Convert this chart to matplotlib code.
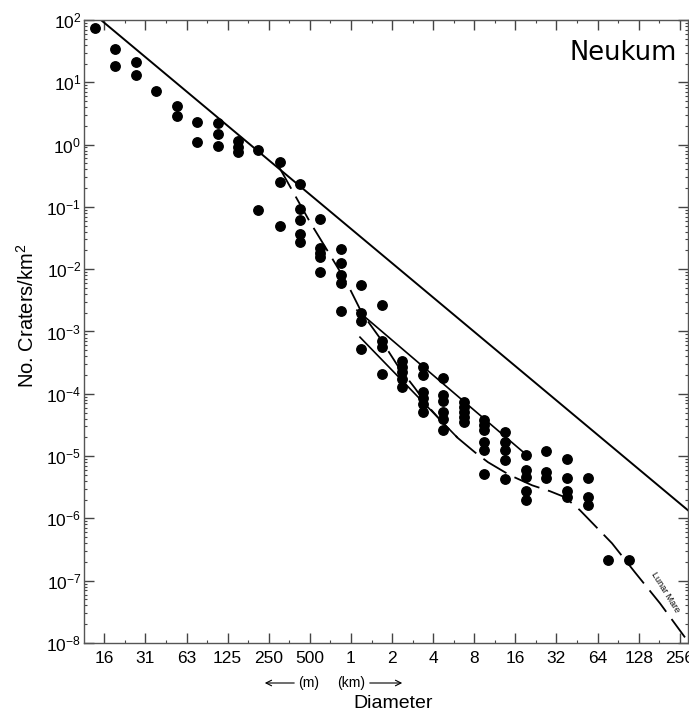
import numpy as np
import matplotlib
matplotlib.use('Agg')
import matplotlib.pyplot as plt
from matplotlib.ticker import FixedLocator, LogLocator, NullFormatter

plt.rcParams['font.family'] = ['Liberation Sans', 'DejaVu Sans']
plt.rcParams['mathtext.fontset'] = 'custom'
plt.rcParams['mathtext.rm'] = 'Liberation Sans'
plt.rcParams['mathtext.it'] = 'Liberation Sans:italic'
plt.rcParams['mathtext.bf'] = 'Liberation Sans:bold'

# ---------------------------------------------------------------- data
# crater bins (diameter in km) and measured densities (No./km^2)
bin_diam = [0.0133, 0.0188, 0.0266, 0.0376, 0.053, 0.075, 0.106, 0.150, 0.21,
            0.30, 0.42, 0.59, 0.84, 1.19, 1.68, 2.38, 3.36, 4.76, 6.73, 9.5,
            13.5, 19.0, 27.0, 38.0, 54.0, 76.0, 108.0]
bin_density = [
    [75.0],
    [33.7, 18.2],
    [20.9, 13.1],
    [7.2],
    [4.2, 2.84],
    [2.3, 1.11],
    [2.24, 1.48, 0.94],
    [1.15, 0.90, 0.75],
    [0.82, 0.089],
    [0.53, 0.25, 0.049],
    [0.23, 0.093, 0.062, 0.0366, 0.0275],
    [0.064, 0.0216, 0.0179, 0.0155, 0.0089],
    [0.0208, 0.0126, 0.0080, 0.0059, 0.0021],
    [0.0055, 0.00195, 0.0015, 0.00053],
    [0.0027, 0.0007, 0.00057, 0.00021],
    [3.3e-4, 2.7e-4, 2.2e-4, 1.7e-4, 1.3e-4],
    [2.7e-4, 2.0e-4, 1.07e-4, 8.5e-5, 6.8e-5, 5.1e-5],
    [1.8e-4, 9.7e-5, 7.7e-5, 5.1e-5, 4.0e-5, 2.6e-5],
    [7.3e-5, 6.1e-5, 5.1e-5, 4.2e-5, 3.5e-5],
    [3.77e-5, 3.13e-5, 2.6e-5, 1.7e-5, 1.24e-5, 5.2e-6],
    [2.45e-5, 1.7e-5, 1.24e-5, 8.5e-6, 4.3e-6],
    [1.03e-5, 5.9e-6, 4.7e-6, 2.8e-6, 2.0e-6],
    [1.21e-5, 5.6e-6, 4.4e-6],
    [8.9e-6, 4.4e-6, 2.8e-6, 2.2e-6],
    [4.4e-6, 2.2e-6, 1.63e-6],
    [2.13e-7],
    [2.13e-7],
]

# saturation line
sat_diam = [0.015, 300.0]
sat_density = [97.0, 1.3e-6]

# lunar mare production curve
mare_diam = [0.292, 0.370, 0.501, 0.690, 0.935, 1.204, 1.631, 2.209, 2.943,
             3.664, 4.88, 6.08, 8.09, 10.08, 14.6, 21.2, 28.7, 36.9, 47.6,
             81.6, 120.3, 183.3, 279.5]
mare_density = [0.469, 0.186, 0.0570, 0.0181, 0.00597, 0.00197, 7.82e-4,
                2.78e-4, 1.23e-4, 6.32e-5, 3.13e-5, 1.94e-5, 1.15e-5, 7.98e-6,
                4.93e-6, 3.40e-6, 2.73e-6, 2.19e-6, 1.35e-6, 3.99e-7, 1.36e-7,
                4.34e-8, 1.23e-8]

# two short fitted segments
upper_diam = [1.106, 19.46]
upper_density = [2.20e-3, 1.03e-5]
lower_diam = [1.164, 5.98]
lower_density = [8.11e-4, 2.01e-5]

xtick_pos = [2.0 ** k for k in range(-6, 9)]
xtick_labels = ['16', '31', '63', '125', '250', '500', '1', '2', '4', '8',
                '16', '32', '64', '128', '256']
ytick_pos = [10.0 ** k for k in range(2, -9, -1)]
ytick_labels = [r'$\mathregular{10^{%d}}$' % k for k in range(2, -9, -1)]

# ---------------------------------------------------------------- plot
fig = plt.figure(figsize=(6.89, 7.17), dpi=100)
ax = fig.add_axes([84 / 689, 74 / 717, 604 / 689, 623 / 717])

xs = []
ys = []
for d, vals in zip(bin_diam, bin_density):
    for v in vals:
        xs.append(d)
        ys.append(v)
ax.plot(xs, ys, 'o', color='black', ms=6.8, mec='black', zorder=3)

ax.plot(sat_diam, sat_density, '-', color='black', lw=1.4)
ax.plot(mare_diam, mare_density, color='black', lw=1.3,
        linestyle=(0, (15, 5)))
ax.plot(upper_diam, upper_density, '-', color='black', lw=1.2)
ax.plot(lower_diam, lower_density, '-', color='black', lw=1.2)

ax.set_xscale('log', base=2)
ax.set_yscale('log')
ax.set_xlim(2.0 ** -6.496, 2.0 ** 8.2)
ax.set_ylim(1e-8, 1e2)

ax.xaxis.set_major_locator(FixedLocator(xtick_pos))
ax.set_xticklabels(xtick_labels)
ax.xaxis.set_minor_locator(FixedLocator([2.0 ** (k + 0.5) for k in range(-7, 9)]))
ax.xaxis.set_minor_formatter(NullFormatter())
ax.yaxis.set_major_locator(FixedLocator(ytick_pos))
ax.set_yticklabels(ytick_labels)
ax.yaxis.set_minor_locator(LogLocator(base=10, subs=np.arange(2, 10), numticks=20))
ax.yaxis.set_minor_formatter(NullFormatter())

ax.tick_params(which='major', direction='in', length=7, width=1.0,
               color='#444444', labelsize=12.5, top=True, right=True)
ax.tick_params(axis='x', which='major', pad=6)
ax.tick_params(axis='y', which='major', pad=2)
ax.tick_params(which='minor', direction='in', length=2.5, width=0.8,
               color='#444444', top=True, right=True)
for s in ax.spines.values():
    s.set_color('#555555')
    s.set_linewidth(1.0)

fig.text(27 / 689, 1 - 316 / 717, r'No. Craters/km$^2$', rotation=90,
         ha='center', va='center', fontsize=14.5)

fig.text(393 / 689, 1 - 703 / 717, 'Diameter', ha='center', va='center',
         fontsize=14)
fig.text(308.5 / 689, 1 - 683 / 717, '(m)', ha='center', va='center',
         fontsize=10)
fig.text(351 / 689, 1 - 683 / 717, '(km)', ha='center', va='center',
         fontsize=10)
fig.patches.append(matplotlib.patches.FancyArrowPatch(
    (297 / 689, 1 - 683 / 717), (262 / 689, 1 - 683 / 717),
    transform=fig.transFigure, arrowstyle='->', mutation_scale=10,
    lw=0.8, color='black'))
fig.patches.append(matplotlib.patches.FancyArrowPatch(
    (367 / 689, 1 - 683 / 717), (405 / 689, 1 - 683 / 717),
    transform=fig.transFigure, arrowstyle='->', mutation_scale=10,
    lw=0.8, color='black'))

fig.text(677 / 689, 1 - 52.5 / 717, 'Neukum', ha='right', va='center',
         fontsize=18.5, family='DejaVu Sans')
ax.text(199, 6.5e-8, 'Lunar Mare', rotation=-58, fontsize=6.5,
        ha='center', va='center')

fig.savefig('out.png', dpi=100)
